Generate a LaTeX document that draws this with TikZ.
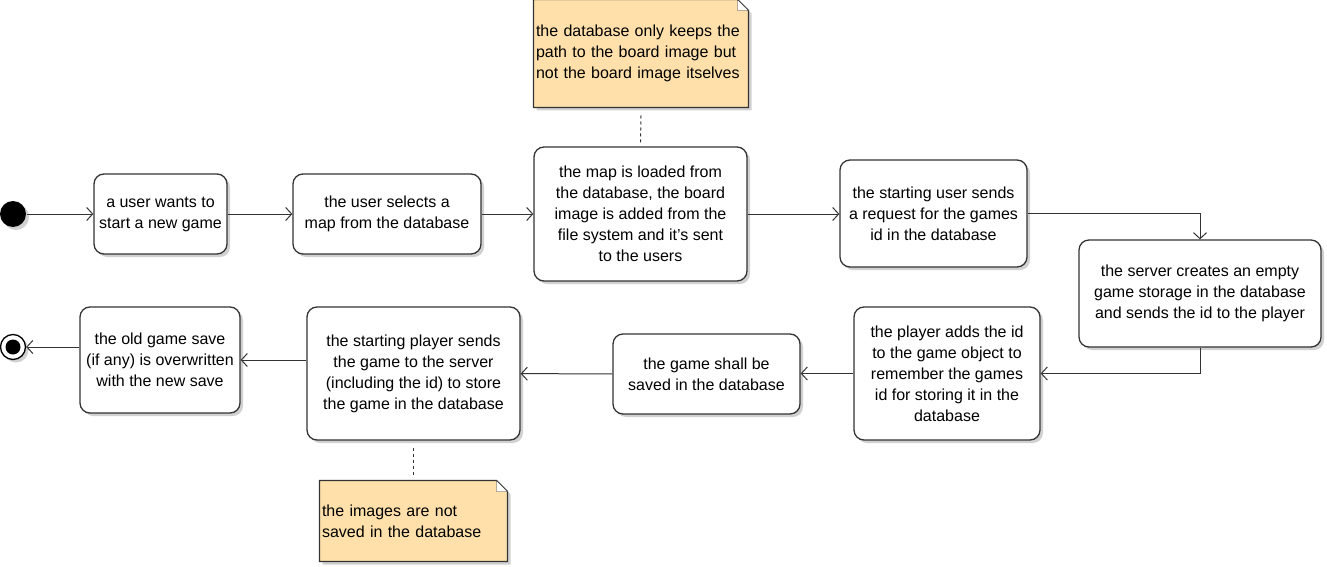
\documentclass[tikz,border=0pt]{standalone}
\usepackage{fontspec}
\setmainfont{Liberation Sans}
\usepackage{tikz}
\usetikzlibrary{arrows.meta,shadows,backgrounds}
\definecolor{notefill}{RGB}{255,224,170}
\definecolor{linegray}{RGB}{51,51,51}

\begin{document}
\begin{tikzpicture}[x=1pt, y=-1pt, line width=1pt,
              font=\fontsize{16}{21}\selectfont,
              shade/.style={drop shadow={shadow xshift=3pt, shadow yshift=-3pt, fill=black!30, opacity=0.6}},
              action/.style={draw=linegray, line width=1.3pt, fill=white, rounded corners=10pt, align=center, inner sep=0pt, shade},
              note/.style={align=left, inner sep=2pt},
              flow/.style={-{Straight Barb[length=6pt,width=13pt]}, linegray},
              link/.style={dashed, linegray}]
              \useasboundingbox (0,0) rectangle (1327,567);
              % start and end
              \node [circle, fill=black, minimum size=26pt, inner sep=0pt, shade] (start) at (13,214) {};
              \node [circle, draw=black, line width=1.3pt, fill=white, minimum size=25pt, inner sep=0pt, shade] (end) at (13,347) {};
              \node [circle, fill=black, minimum size=15pt, inner sep=0pt] (endDot) at (end) {};
              % upper row
              \node [action, minimum width=133pt, minimum height=80pt] (wants) at (160.5,214) {a user wants to\\start a new game};
              \node [action, minimum width=188pt, minimum height=80pt] (selects) at (387,214) {the user selects a\\map from the database};
              \node [action, minimum width=213pt, minimum height=134pt] (loaded) at (640.5,214) {the map is loaded from\\the database, the board\\image is added from the\\file system and it's sent\\to the users};
              \node [action, minimum width=187pt, minimum height=107pt] (request) at (933.5,213.5) {the starting user sends\\a request for the games\\id in the database};
              \node [action, minimum width=242pt, minimum height=107pt] (creates) at (1200,293.5) {the server creates an empty\\game storage in the database\\and sends the id to the player};
              % lower row
              \node [action, minimum width=186pt, minimum height=133pt] (adds) at (947,373.5) {the player adds the id\\to the game object to\\remember the games\\id for storing it in the\\database};
              \node [action, minimum width=187pt, minimum height=80pt] (shall) at (706.5,374) {the game shall be\\saved in the database};
              \node [action, minimum width=213pt, minimum height=133pt] (sends) at (413.5,373.5) {the starting player sends\\the game to the server\\(including the id) to store\\the game in the database};
              \node [action, minimum width=160pt, minimum height=106pt] (old) at (160,360) {the old game save\\(if any) is overwritten\\with the new save};
              % notes
              \node [note, text width=210pt, minimum height=107pt] (noteMap) at (641,53.5) {the database only keeps the\\path to the board image but\\not the board image itselves};
              \node [note, text width=183pt, minimum height=80pt] (noteImg) at (413.5,521) {the images are not\\saved in the database};
              \begin{scope}[on background layer]
              \foreach \n in {noteMap,noteImg} {
                \draw [linegray, line width=1.3pt, fill=notefill, shade] (\n.south west) -- (\n.north west) -- ([xshift=-11pt]\n.north east) -- ([yshift=-11pt]\n.north east) -- (\n.south east) -- cycle;
                \draw [linegray, fill=white] ([xshift=-11pt]\n.north east) |- ([yshift=-11pt]\n.north east) -- cycle;
              }
              \end{scope}
              % connectors
              \draw [flow] (start) -- (wants);
              \draw [flow] (wants) -- (selects);
              \draw [flow] (selects) -- (loaded);
              \draw [flow] (loaded.east) -- (loaded.east -| request.west);
              \draw [flow] (request.east) -| (creates.north);
              \draw [flow] (creates.south) |- (adds.east);
              \draw [flow] (adds.west) -- (adds.west -| shall.east);
              \draw [flow] (shall) -- (sends);
              \draw [flow] (old.east -| sends.west) -- (old.east);
              \draw [flow] (end.east -| old.west) -- (end.east);
              \draw [link] ([yshift=-8pt]noteMap.south) -- ([yshift=4pt]loaded.north);
              \draw [link] ([yshift=-7pt]sends.south) -- ([yshift=4pt]noteImg.north);
\end{tikzpicture}
\end{document}
